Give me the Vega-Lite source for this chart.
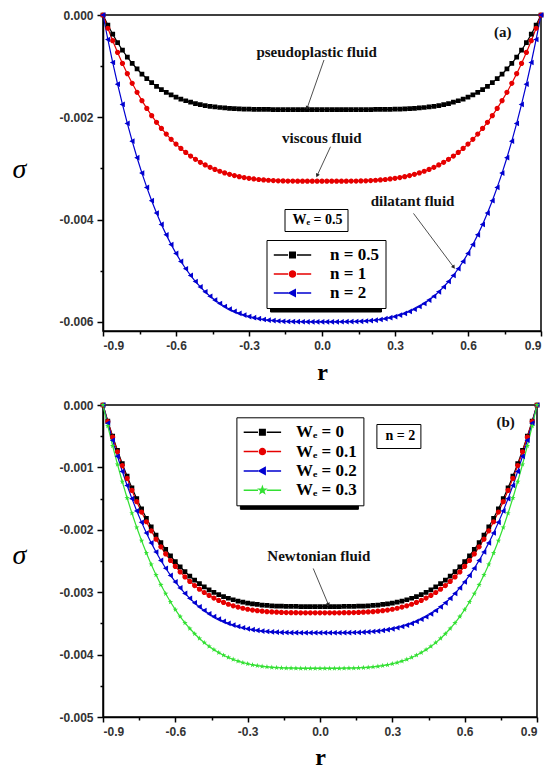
{
  "$schema": "https://vega.github.io/schema/vega-lite/v6.json",
  "padding": {"left": 11, "top": 8, "right": 5, "bottom": 2},
  "spacing": 13,
  "config": {
    "view": {"stroke": "black", "strokeWidth": 1.5},
    "axis": {"grid": false, "domainColor": "black", "domainWidth": 1.5, "tickColor": "black", "tickWidth": 1.5, "labelFont": "Liberation Sans", "labelFontWeight": "bold", "labelFontSize": 12, "labelColor": "#333333", "labelPadding": 3},
    "text": {"font": "Liberation Serif"}
  },
  "datasets": {
    "curves": [
      {"r":-0.9,"p1":0,"p2":0,"p3":0,"q0":0,"q1":0,"q2":0,"q3":0},
      {"r":-0.88,"p1":-0.000197,"p2":-0.000259,"p3":-0.000479,"q0":-0.000258,"q1":-0.000266,"q2":-0.000291,"q3":-0.000337},
      {"r":-0.86,"p1":-0.000376,"p2":-0.000503,"p3":-0.000929,"q0":-0.0005,"q1":-0.000516,"q2":-0.000565,"q3":-0.000654},
      {"r":-0.84,"p1":-0.00054,"p2":-0.000732,"p3":-0.001352,"q0":-0.000728,"q1":-0.00075,"q2":-0.000822,"q3":-0.000951},
      {"r":-0.82,"p1":-0.000689,"p2":-0.000947,"p3":-0.001748,"q0":-0.000941,"q1":-0.00097,"q2":-0.001064,"q3":-0.00123},
      {"r":-0.8,"p1":-0.000823,"p2":-0.001148,"p3":-0.00212,"q0":-0.001141,"q1":-0.001176,"q2":-0.00129,"q3":-0.001491},
      {"r":-0.78,"p1":-0.000945,"p2":-0.001336,"p3":-0.002467,"q0":-0.001328,"q1":-0.001369,"q2":-0.001501,"q3":-0.001735},
      {"r":-0.76,"p1":-0.001056,"p2":-0.001512,"p3":-0.002791,"q0":-0.001502,"q1":-0.001549,"q2":-0.001698,"q3":-0.001963},
      {"r":-0.74,"p1":-0.001155,"p2":-0.001675,"p3":-0.003092,"q0":-0.001665,"q1":-0.001716,"q2":-0.001881,"q3":-0.002175},
      {"r":-0.72,"p1":-0.001244,"p2":-0.001827,"p3":-0.003372,"q0":-0.001815,"q1":-0.001871,"q2":-0.002051,"q3":-0.002372},
      {"r":-0.7,"p1":-0.001323,"p2":-0.001968,"p3":-0.003632,"q0":-0.001955,"q1":-0.002016,"q2":-0.00221,"q3":-0.002555},
      {"r":-0.68,"p1":-0.001394,"p2":-0.002098,"p3":-0.003873,"q0":-0.002085,"q1":-0.00215,"q2":-0.002356,"q3":-0.002724},
      {"r":-0.66,"p1":-0.001458,"p2":-0.002218,"p3":-0.004096,"q0":-0.002205,"q1":-0.002273,"q2":-0.002491,"q3":-0.002881},
      {"r":-0.64,"p1":-0.001513,"p2":-0.002329,"p3":-0.0043,"q0":-0.002315,"q1":-0.002387,"q2":-0.002616,"q3":-0.003024},
      {"r":-0.62,"p1":-0.001563,"p2":-0.002432,"p3":-0.004489,"q0":-0.002417,"q1":-0.002492,"q2":-0.002731,"q3":-0.003157},
      {"r":-0.6,"p1":-0.001606,"p2":-0.002525,"p3":-0.004662,"q0":-0.00251,"q1":-0.002587,"q2":-0.002836,"q3":-0.003279},
      {"r":-0.58,"p1":-0.001644,"p2":-0.00261,"p3":-0.004819,"q0":-0.002594,"q1":-0.002675,"q2":-0.002932,"q3":-0.00339},
      {"r":-0.56,"p1":-0.001677,"p2":-0.002688,"p3":-0.004963,"q0":-0.002672,"q1":-0.002755,"q2":-0.003019,"q3":-0.003491},
      {"r":-0.54,"p1":-0.001706,"p2":-0.002759,"p3":-0.005093,"q0":-0.002742,"q1":-0.002827,"q2":-0.003098,"q3":-0.003582},
      {"r":-0.52,"p1":-0.001731,"p2":-0.002823,"p3":-0.005212,"q0":-0.002806,"q1":-0.002893,"q2":-0.003171,"q3":-0.003666},
      {"r":-0.5,"p1":-0.001752,"p2":-0.002881,"p3":-0.005318,"q0":-0.002863,"q1":-0.002952,"q2":-0.003235,"q3":-0.003741},
      {"r":-0.48,"p1":-0.00177,"p2":-0.002932,"p3":-0.005414,"q0":-0.002914,"q1":-0.003005,"q2":-0.003293,"q3":-0.003808},
      {"r":-0.46,"p1":-0.001785,"p2":-0.002979,"p3":-0.0055,"q0":-0.002961,"q1":-0.003052,"q2":-0.003346,"q3":-0.003868},
      {"r":-0.44,"p1":-0.001798,"p2":-0.00302,"p3":-0.005575,"q0":-0.003001,"q1":-0.003094,"q2":-0.003392,"q3":-0.003921},
      {"r":-0.42,"p1":-0.001809,"p2":-0.003056,"p3":-0.005642,"q0":-0.003037,"q1":-0.003132,"q2":-0.003432,"q3":-0.003968},
      {"r":-0.4,"p1":-0.001818,"p2":-0.003088,"p3":-0.005701,"q0":-0.003069,"q1":-0.003164,"q2":-0.003468,"q3":-0.00401},
      {"r":-0.38,"p1":-0.001825,"p2":-0.003116,"p3":-0.005753,"q0":-0.003097,"q1":-0.003193,"q2":-0.0035,"q3":-0.004046},
      {"r":-0.36,"p1":-0.001831,"p2":-0.00314,"p3":-0.005798,"q0":-0.003121,"q1":-0.003218,"q2":-0.003527,"q3":-0.004078},
      {"r":-0.34,"p1":-0.001836,"p2":-0.003161,"p3":-0.005836,"q0":-0.003142,"q1":-0.003239,"q2":-0.00355,"q3":-0.004105},
      {"r":-0.32,"p1":-0.001839,"p2":-0.003179,"p3":-0.005869,"q0":-0.00316,"q1":-0.003257,"q2":-0.00357,"q3":-0.004128},
      {"r":-0.3,"p1":-0.001842,"p2":-0.003194,"p3":-0.005897,"q0":-0.003174,"q1":-0.003273,"q2":-0.003587,"q3":-0.004147},
      {"r":-0.28,"p1":-0.001845,"p2":-0.003207,"p3":-0.00592,"q0":-0.003187,"q1":-0.003286,"q2":-0.003601,"q3":-0.004164},
      {"r":-0.26,"p1":-0.001846,"p2":-0.003217,"p3":-0.005939,"q0":-0.003197,"q1":-0.003296,"q2":-0.003613,"q3":-0.004177},
      {"r":-0.24,"p1":-0.001848,"p2":-0.003226,"p3":-0.005955,"q0":-0.003206,"q1":-0.003305,"q2":-0.003623,"q3":-0.004188},
      {"r":-0.22,"p1":-0.001848,"p2":-0.003232,"p3":-0.005968,"q0":-0.003213,"q1":-0.003312,"q2":-0.00363,"q3":-0.004197},
      {"r":-0.2,"p1":-0.001849,"p2":-0.003238,"p3":-0.005977,"q0":-0.003218,"q1":-0.003317,"q2":-0.003636,"q3":-0.004204},
      {"r":-0.18,"p1":-0.00185,"p2":-0.003242,"p3":-0.005984,"q0":-0.003222,"q1":-0.003321,"q2":-0.003641,"q3":-0.004209},
      {"r":-0.16,"p1":-0.00185,"p2":-0.003245,"p3":-0.00599,"q0":-0.003225,"q1":-0.003324,"q2":-0.003644,"q3":-0.004213},
      {"r":-0.14,"p1":-0.00185,"p2":-0.003247,"p3":-0.005994,"q0":-0.003227,"q1":-0.003327,"q2":-0.003646,"q3":-0.004216},
      {"r":-0.12,"p1":-0.00185,"p2":-0.003248,"p3":-0.005996,"q0":-0.003228,"q1":-0.003328,"q2":-0.003648,"q3":-0.004217},
      {"r":-0.1,"p1":-0.00185,"p2":-0.003249,"p3":-0.005998,"q0":-0.003229,"q1":-0.003329,"q2":-0.003649,"q3":-0.004219},
      {"r":-0.08,"p1":-0.00185,"p2":-0.00325,"p3":-0.005999,"q0":-0.00323,"q1":-0.00333,"q2":-0.00365,"q3":-0.00422},
      {"r":-0.06,"p1":-0.00185,"p2":-0.00325,"p3":-0.006,"q0":-0.00323,"q1":-0.00333,"q2":-0.00365,"q3":-0.00422},
      {"r":-0.04,"p1":-0.00185,"p2":-0.00325,"p3":-0.006,"q0":-0.00323,"q1":-0.00333,"q2":-0.00365,"q3":-0.00422},
      {"r":-0.02,"p1":-0.00185,"p2":-0.00325,"p3":-0.006,"q0":-0.00323,"q1":-0.00333,"q2":-0.00365,"q3":-0.00422},
      {"r":0,"p1":-0.00185,"p2":-0.00325,"p3":-0.006,"q0":-0.00323,"q1":-0.00333,"q2":-0.00365,"q3":-0.00422},
      {"r":0.02,"p1":-0.00185,"p2":-0.00325,"p3":-0.006,"q0":-0.00323,"q1":-0.00333,"q2":-0.00365,"q3":-0.00422},
      {"r":0.04,"p1":-0.00185,"p2":-0.00325,"p3":-0.006,"q0":-0.00323,"q1":-0.00333,"q2":-0.00365,"q3":-0.00422},
      {"r":0.06,"p1":-0.00185,"p2":-0.00325,"p3":-0.006,"q0":-0.00323,"q1":-0.00333,"q2":-0.00365,"q3":-0.00422},
      {"r":0.08,"p1":-0.00185,"p2":-0.00325,"p3":-0.005999,"q0":-0.00323,"q1":-0.00333,"q2":-0.00365,"q3":-0.00422},
      {"r":0.1,"p1":-0.00185,"p2":-0.003249,"p3":-0.005998,"q0":-0.003229,"q1":-0.003329,"q2":-0.003649,"q3":-0.004219},
      {"r":0.12,"p1":-0.00185,"p2":-0.003248,"p3":-0.005996,"q0":-0.003228,"q1":-0.003328,"q2":-0.003648,"q3":-0.004217},
      {"r":0.14,"p1":-0.00185,"p2":-0.003247,"p3":-0.005994,"q0":-0.003227,"q1":-0.003327,"q2":-0.003646,"q3":-0.004216},
      {"r":0.16,"p1":-0.00185,"p2":-0.003245,"p3":-0.00599,"q0":-0.003225,"q1":-0.003324,"q2":-0.003644,"q3":-0.004213},
      {"r":0.18,"p1":-0.00185,"p2":-0.003242,"p3":-0.005984,"q0":-0.003222,"q1":-0.003321,"q2":-0.003641,"q3":-0.004209},
      {"r":0.2,"p1":-0.001849,"p2":-0.003238,"p3":-0.005977,"q0":-0.003218,"q1":-0.003317,"q2":-0.003636,"q3":-0.004204},
      {"r":0.22,"p1":-0.001848,"p2":-0.003232,"p3":-0.005968,"q0":-0.003213,"q1":-0.003312,"q2":-0.00363,"q3":-0.004197},
      {"r":0.24,"p1":-0.001848,"p2":-0.003226,"p3":-0.005955,"q0":-0.003206,"q1":-0.003305,"q2":-0.003623,"q3":-0.004188},
      {"r":0.26,"p1":-0.001846,"p2":-0.003217,"p3":-0.005939,"q0":-0.003197,"q1":-0.003296,"q2":-0.003613,"q3":-0.004177},
      {"r":0.28,"p1":-0.001845,"p2":-0.003207,"p3":-0.00592,"q0":-0.003187,"q1":-0.003286,"q2":-0.003601,"q3":-0.004164},
      {"r":0.3,"p1":-0.001842,"p2":-0.003194,"p3":-0.005897,"q0":-0.003174,"q1":-0.003273,"q2":-0.003587,"q3":-0.004147},
      {"r":0.32,"p1":-0.001839,"p2":-0.003179,"p3":-0.005869,"q0":-0.00316,"q1":-0.003257,"q2":-0.00357,"q3":-0.004128},
      {"r":0.34,"p1":-0.001836,"p2":-0.003161,"p3":-0.005836,"q0":-0.003142,"q1":-0.003239,"q2":-0.00355,"q3":-0.004105},
      {"r":0.36,"p1":-0.001831,"p2":-0.00314,"p3":-0.005798,"q0":-0.003121,"q1":-0.003218,"q2":-0.003527,"q3":-0.004078},
      {"r":0.38,"p1":-0.001825,"p2":-0.003116,"p3":-0.005753,"q0":-0.003097,"q1":-0.003193,"q2":-0.0035,"q3":-0.004046},
      {"r":0.4,"p1":-0.001818,"p2":-0.003088,"p3":-0.005701,"q0":-0.003069,"q1":-0.003164,"q2":-0.003468,"q3":-0.00401},
      {"r":0.42,"p1":-0.001809,"p2":-0.003056,"p3":-0.005642,"q0":-0.003037,"q1":-0.003132,"q2":-0.003432,"q3":-0.003968},
      {"r":0.44,"p1":-0.001798,"p2":-0.00302,"p3":-0.005575,"q0":-0.003001,"q1":-0.003094,"q2":-0.003392,"q3":-0.003921},
      {"r":0.46,"p1":-0.001785,"p2":-0.002979,"p3":-0.0055,"q0":-0.002961,"q1":-0.003052,"q2":-0.003346,"q3":-0.003868},
      {"r":0.48,"p1":-0.00177,"p2":-0.002932,"p3":-0.005414,"q0":-0.002914,"q1":-0.003005,"q2":-0.003293,"q3":-0.003808},
      {"r":0.5,"p1":-0.001752,"p2":-0.002881,"p3":-0.005318,"q0":-0.002863,"q1":-0.002952,"q2":-0.003235,"q3":-0.003741},
      {"r":0.52,"p1":-0.001731,"p2":-0.002823,"p3":-0.005212,"q0":-0.002806,"q1":-0.002893,"q2":-0.003171,"q3":-0.003666},
      {"r":0.54,"p1":-0.001706,"p2":-0.002759,"p3":-0.005093,"q0":-0.002742,"q1":-0.002827,"q2":-0.003098,"q3":-0.003582},
      {"r":0.56,"p1":-0.001677,"p2":-0.002688,"p3":-0.004963,"q0":-0.002672,"q1":-0.002755,"q2":-0.003019,"q3":-0.003491},
      {"r":0.58,"p1":-0.001644,"p2":-0.00261,"p3":-0.004819,"q0":-0.002594,"q1":-0.002675,"q2":-0.002932,"q3":-0.00339},
      {"r":0.6,"p1":-0.001606,"p2":-0.002525,"p3":-0.004662,"q0":-0.00251,"q1":-0.002587,"q2":-0.002836,"q3":-0.003279},
      {"r":0.62,"p1":-0.001563,"p2":-0.002432,"p3":-0.004489,"q0":-0.002417,"q1":-0.002492,"q2":-0.002731,"q3":-0.003157},
      {"r":0.64,"p1":-0.001513,"p2":-0.002329,"p3":-0.0043,"q0":-0.002315,"q1":-0.002387,"q2":-0.002616,"q3":-0.003024},
      {"r":0.66,"p1":-0.001458,"p2":-0.002218,"p3":-0.004096,"q0":-0.002205,"q1":-0.002273,"q2":-0.002491,"q3":-0.002881},
      {"r":0.68,"p1":-0.001394,"p2":-0.002098,"p3":-0.003873,"q0":-0.002085,"q1":-0.00215,"q2":-0.002356,"q3":-0.002724},
      {"r":0.7,"p1":-0.001323,"p2":-0.001968,"p3":-0.003632,"q0":-0.001955,"q1":-0.002016,"q2":-0.00221,"q3":-0.002555},
      {"r":0.72,"p1":-0.001244,"p2":-0.001827,"p3":-0.003372,"q0":-0.001815,"q1":-0.001871,"q2":-0.002051,"q3":-0.002372},
      {"r":0.74,"p1":-0.001155,"p2":-0.001675,"p3":-0.003092,"q0":-0.001665,"q1":-0.001716,"q2":-0.001881,"q3":-0.002175},
      {"r":0.76,"p1":-0.001056,"p2":-0.001512,"p3":-0.002791,"q0":-0.001502,"q1":-0.001549,"q2":-0.001698,"q3":-0.001963},
      {"r":0.78,"p1":-0.000945,"p2":-0.001336,"p3":-0.002467,"q0":-0.001328,"q1":-0.001369,"q2":-0.001501,"q3":-0.001735},
      {"r":0.8,"p1":-0.000823,"p2":-0.001148,"p3":-0.00212,"q0":-0.001141,"q1":-0.001176,"q2":-0.00129,"q3":-0.001491},
      {"r":0.82,"p1":-0.000689,"p2":-0.000947,"p3":-0.001748,"q0":-0.000941,"q1":-0.00097,"q2":-0.001064,"q3":-0.00123},
      {"r":0.84,"p1":-0.00054,"p2":-0.000732,"p3":-0.001352,"q0":-0.000728,"q1":-0.00075,"q2":-0.000822,"q3":-0.000951},
      {"r":0.86,"p1":-0.000376,"p2":-0.000503,"p3":-0.000929,"q0":-0.0005,"q1":-0.000516,"q2":-0.000565,"q3":-0.000654},
      {"r":0.88,"p1":-0.000197,"p2":-0.000259,"p3":-0.000479,"q0":-0.000258,"q1":-0.000266,"q2":-0.000291,"q3":-0.000337},
      {"r":0.9,"p1":0,"p2":0,"p3":0,"q0":0,"q1":0,"q2":0,"q3":0}
    ],
    "notesA": [
      {"r": 0.743, "s": -0.000334, "t": "(a)"},
      {"r": -0.022, "s": -0.000718, "t": "pseudoplastic fluid"},
      {"r": -0.001, "s": -0.002406, "t": "viscous fluid"},
      {"r": 0.372, "s": -0.00364, "t": "dilatant fluid"}
    ],
    "arrowsA": [
      {"id": 1, "r": 0.0082, "s": -0.00088, "r2": -0.06, "s2": -0.001806},
      {"id": 2, "r": 0.035, "s": -0.002576, "r2": -0.019, "s2": -0.00313},
      {"id": 3, "r": 0.376, "s": -0.00388, "r2": 0.54, "s2": -0.004924}
    ],
    "notesB": [
      {"r": 0.77, "s": -0.000278, "t": "(b)"},
      {"r": -0.005, "s": -0.002417, "t": "Newtonian fluid"}
    ],
    "arrowsB": [
      {"id": 1, "r": -0.028, "s": -0.00262, "r2": 0.034, "s2": -0.003192}
    ]
  },
  "resolve": {"scale": {"color": "independent", "stroke": "independent", "shape": "independent", "strokeDash": "independent", "size": "independent", "x": "independent", "y": "independent"}},
  "vconcat": [
    {
      "width": 438,
      "height": 316,
      "encoding": {
        "x": {"field": "r", "type": "quantitative", "scale": {"domain": [-0.9, 0.9], "nice": false, "zero": false},
          "axis": {"title": "r", "values": [-0.9, -0.75, -0.6, -0.45, -0.3, -0.15, 0, 0.15, 0.3, 0.45, 0.6, 0.75, 0.9],
            "labelExpr": "indexof([-0.9,-0.6,-0.3,0,0.3,0.6,0.9], datum.value) >= 0 ? replace(format(datum.value, '.1f'), '\u2212', '-') : ''",
            "tickSize": {"condition": {"test": "indexof([-0.9,-0.6,-0.3,0,0.3,0.6,0.9], datum.value) >= 0", "value": 5}, "value": 3},
            "labelPadding": 4,
            "titleFont": "Liberation Serif", "titleFontWeight": "bold", "titleFontSize": 24, "titleColor": "black", "titleY": 48, "titleBaseline": "alphabetic"}},
        "y": {"field": "s", "type": "quantitative", "scale": {"domain": [-0.00618, 0], "nice": false, "zero": false},
          "axis": {"title": "σ", "values": [0, -0.001, -0.002, -0.003, -0.004, -0.005, -0.006],
            "labelExpr": "indexof([0,-0.002,-0.004,-0.006], datum.value) >= 0 ? replace(format(datum.value, '.3f'), '\u2212', '-') : ''",
            "tickSize": {"condition": {"test": "indexof([0,-0.002,-0.004,-0.006], datum.value) >= 0", "value": 6}, "value": 3},
            "labelPadding": 4,
            "titleFont": "Liberation Serif", "titleFontStyle": "italic", "titleFontWeight": "normal", "titleFontSize": 28, "titleColor": "black",
            "titleAngle": 0, "titleX": -84, "titleY": 154, "titleAlign": "center", "titleBaseline": "middle"}}
      },
      "layer": [
        {
          "data": {"name": "curves"},
          "transform": [{"fold": ["p1", "p2", "p3"], "as": ["k", "s"]}],
          "mark": {"type": "line", "strokeWidth": 1.2},
          "encoding": {
            "stroke": {"field": "k", "type": "nominal", "scale": {"domain": ["p1", "p2", "p3"], "range": ["#000000", "#e60000", "#0000d0"]},
              "legend": {"orient": "none", "legendX": 163.5, "legendY": 225, "title": null, "zindex": 2,
                "labelExpr": "datum.label === 'p1' ? 'n = 0.5' : datum.label === 'p2' ? 'n = 1' : 'n = 2'",
                "labelFont": "Liberation Serif", "labelFontWeight": "bold", "labelFontSize": 17, "labelColor": "black",
                "symbolSize": 121, "symbolStrokeWidth": 1.5, "symbolOffset": 11, "labelOffset": 29, "padding": 6.5, "rowPadding": 1,
                "strokeColor": "black", "fillColor": "white"}}
          }
        },
        {
          "data": {"name": "curves"},
          "transform": [{"fold": ["p1", "p2", "p3"], "as": ["k", "s"]}],
          "mark": {"type": "point", "filled": true, "size": 90, "opacity": 1, "strokeWidth": 0},
          "encoding": {
            "color": {"field": "k", "type": "nominal", "scale": {"domain": ["p1", "p2", "p3"], "range": ["#000000", "#e60000", "#0000d0"]},
              "legend": {"orient": "none", "legendX": 163.5, "legendY": 225, "title": null, "zindex": 2,
                "labelExpr": "datum.label === 'p1' ? 'n = 0.5' : datum.label === 'p2' ? 'n = 1' : 'n = 2'",
                "labelFont": "Liberation Serif", "labelFontWeight": "bold", "labelFontSize": 17, "labelColor": "black",
                "symbolSize": 121, "symbolStrokeWidth": 1.5, "symbolOffset": 11, "labelOffset": 29, "padding": 6.5, "rowPadding": 1,
                "strokeColor": "black", "fillColor": "white"}},
            "shape": {"field": "k", "type": "nominal",
              "scale": {"domain": ["p1", "p2", "p3"], "range": [
                "M-3.4,0H-0.8M0.8,0H3.4M-0.5,-0.5H0.5V0.5H-0.5Z",
                "M-3.4,0H-0.8M0.8,0H3.4M-0.55,0A0.55,0.55,0,1,1,0.55,0A0.55,0.55,0,1,1,-0.55,0Z",
                "M-3.4,0H-0.8M0.8,0H3.4M-0.6,0L0.5,-0.6L0.5,0.6Z"]},
              "legend": {"orient": "none", "legendX": 163.5, "legendY": 225, "title": null, "zindex": 2,
                "labelExpr": "datum.label === 'p1' ? 'n = 0.5' : datum.label === 'p2' ? 'n = 1' : 'n = 2'",
                "labelFont": "Liberation Serif", "labelFontWeight": "bold", "labelFontSize": 17, "labelColor": "black",
                "symbolSize": 121, "symbolStrokeWidth": 1.5, "symbolOffset": 11, "labelOffset": 29, "padding": 6.5, "rowPadding": 1,
                "strokeColor": "black", "fillColor": "white"}}
          }
        },
        {
          "data": {"values": [{"sh": "s1", "r": 0, "s": -0.003}, {"sh": "s2", "r": 0, "s": -0.003}, {"sh": "s3", "r": 0, "s": -0.003}]},
          "mark": {"type": "point", "opacity": 0},
          "encoding": {
            "size": {"field": "sh", "type": "ordinal", "scale": {"range": [289, 289]},
              "legend": {"orient": "none", "legendX": 167, "legendY": 228.5, "title": null, "zindex": 1,
                "labelExpr": "''",
                "labelFont": "Liberation Serif", "labelFontWeight": "bold", "labelFontSize": 17, "labelOpacity": 0, "symbolOpacity": 0,
                "symbolSize": 289, "symbolStrokeWidth": 0, "symbolOffset": 11, "labelOffset": 70, "padding": 6.5, "rowPadding": 1,
                "strokeColor": "black", "fillColor": "black"}}
          }
        },
        {
          "data": {"values": [{"bx": "Wₑ = 0.5", "r": 0, "s": -0.003}]},
          "mark": {"type": "point", "opacity": 0},
          "encoding": {
            "strokeDash": {"field": "bx", "type": "nominal",
              "legend": {"orient": "none", "legendX": 181.5, "legendY": 194, "title": null, "symbolOpacity": 0, "symbolSize": 1, "symbolOffset": 0, "labelOffset": -10,
                "labelFont": "Liberation Serif", "labelFontWeight": "bold", "labelFontSize": 14, "labelColor": "black",
                "strokeColor": "black", "fillColor": "white", "padding": 4}}
          }
        },
        {
          "data": {"name": "notesA"},
          "mark": {"type": "text", "font": "Liberation Serif", "fontWeight": "bold", "fontSize": 15, "color": "#111111", "align": "center", "baseline": "middle"},
          "encoding": {"text": {"field": "t"}}
        },
        {
          "data": {"name": "arrowsA"},
          "mark": {"type": "rule", "strokeWidth": 0.8, "color": "#222222"},
          "encoding": {"x2": {"field": "r2"}, "y2": {"field": "s2"}}
        },
        {
          "data": {"name": "arrowsA"},
          "transform": [{"filter": "datum.id === 1"}],
          "mark": {"type": "point", "shape": "triangle", "angle": 199, "size": 18, "filled": true, "opacity": 1, "color": "#222222"},
          "encoding": {"x": {"field": "r2", "type": "quantitative"}, "y": {"field": "s2", "type": "quantitative"}}
        },
        {
          "data": {"name": "arrowsA"},
          "transform": [{"filter": "datum.id === 2"}],
          "mark": {"type": "point", "shape": "triangle", "angle": 205, "size": 18, "filled": true, "opacity": 1, "color": "#222222"},
          "encoding": {"x": {"field": "r2", "type": "quantitative"}, "y": {"field": "s2", "type": "quantitative"}}
        },
        {
          "data": {"name": "arrowsA"},
          "transform": [{"filter": "datum.id === 3"}],
          "mark": {"type": "point", "shape": "triangle", "angle": 144, "size": 18, "filled": true, "opacity": 1, "color": "#222222"},
          "encoding": {"x": {"field": "r2", "type": "quantitative"}, "y": {"field": "s2", "type": "quantitative"}}
        }
      ]
    },
    {
      "width": 434,
      "height": 312,
      "encoding": {
        "x": {"field": "r", "type": "quantitative", "scale": {"domain": [-0.9, 0.9], "nice": false, "zero": false},
          "axis": {"title": "r", "values": [-0.9, -0.75, -0.6, -0.45, -0.3, -0.15, 0, 0.15, 0.3, 0.45, 0.6, 0.75, 0.9],
            "labelExpr": "indexof([-0.9,-0.6,-0.3,0,0.3,0.6,0.9], datum.value) >= 0 ? replace(format(datum.value, '.1f'), '\u2212', '-') : ''",
            "tickSize": {"condition": {"test": "indexof([-0.9,-0.6,-0.3,0,0.3,0.6,0.9], datum.value) >= 0", "value": 5}, "value": 3},
            "labelPadding": 4,
            "titleFont": "Liberation Serif", "titleFontWeight": "bold", "titleFontSize": 24, "titleColor": "black", "titleY": 47, "titleBaseline": "alphabetic"}},
        "y": {"field": "s", "type": "quantitative", "scale": {"domain": [-0.005, 0], "nice": false, "zero": false},
          "axis": {"title": "σ", "values": [0, -0.0005, -0.001, -0.0015, -0.002, -0.0025, -0.003, -0.0035, -0.004, -0.0045, -0.005],
            "labelExpr": "indexof([0,-0.001,-0.002,-0.003,-0.004,-0.005], datum.value) >= 0 ? replace(format(datum.value, '.3f'), '\u2212', '-') : ''",
            "tickSize": {"condition": {"test": "indexof([0,-0.001,-0.002,-0.003,-0.004,-0.005], datum.value) >= 0", "value": 6}, "value": 3},
            "labelPadding": 4,
            "titleFont": "Liberation Serif", "titleFontStyle": "italic", "titleFontWeight": "normal", "titleFontSize": 28, "titleColor": "black",
            "titleAngle": 0, "titleX": -84, "titleY": 150, "titleAlign": "center", "titleBaseline": "middle"}}
      },
      "layer": [
        {
          "data": {"name": "curves"},
          "transform": [{"fold": ["q0", "q1", "q2", "q3"], "as": ["k", "s"]}],
          "mark": {"type": "line", "strokeWidth": 1.2},
          "encoding": {
            "stroke": {"field": "k", "type": "nominal", "scale": {"domain": ["q0", "q1", "q2", "q3"], "range": ["#000000", "#e60000", "#0000d0", "#33e033"]},
              "legend": {"orient": "none", "legendX": 133.4, "legendY": 12.3, "title": null, "zindex": 2,
                "labelExpr": "datum.label === 'q0' ? 'Wₑ = 0' : datum.label === 'q1' ? 'Wₑ = 0.1' : datum.label === 'q2' ? 'Wₑ = 0.2' : 'Wₑ = 0.3'",
                "labelFont": "Liberation Serif", "labelFontWeight": "bold", "labelFontSize": 17, "labelColor": "black",
                "symbolSize": 121, "symbolStrokeWidth": 1.5, "symbolOffset": 11, "labelOffset": 25, "padding": 6.5, "rowPadding": 1.3,
                "strokeColor": "black", "fillColor": "white"}}
          }
        },
        {
          "data": {"name": "curves"},
          "transform": [{"fold": ["q0", "q1", "q2", "q3"], "as": ["k", "s"]}],
          "mark": {"type": "point", "filled": true, "size": 90, "opacity": 1, "strokeWidth": 0},
          "encoding": {
            "color": {"field": "k", "type": "nominal", "scale": {"domain": ["q0", "q1", "q2", "q3"], "range": ["#000000", "#e60000", "#0000d0", "#33e033"]},
              "legend": {"orient": "none", "legendX": 133.4, "legendY": 12.3, "title": null, "zindex": 2,
                "labelExpr": "datum.label === 'q0' ? 'Wₑ = 0' : datum.label === 'q1' ? 'Wₑ = 0.1' : datum.label === 'q2' ? 'Wₑ = 0.2' : 'Wₑ = 0.3'",
                "labelFont": "Liberation Serif", "labelFontWeight": "bold", "labelFontSize": 17, "labelColor": "black",
                "symbolSize": 121, "symbolStrokeWidth": 1.5, "symbolOffset": 11, "labelOffset": 25, "padding": 6.5, "rowPadding": 1.3,
                "strokeColor": "black", "fillColor": "white"}},
            "shape": {"field": "k", "type": "nominal",
              "scale": {"domain": ["q0", "q1", "q2", "q3"], "range": [
                "M-3.4,0H-0.8M0.8,0H3.4M-0.5,-0.5H0.5V0.5H-0.5Z",
                "M-3.4,0H-0.8M0.8,0H3.4M-0.55,0A0.55,0.55,0,1,1,0.55,0A0.55,0.55,0,1,1,-0.55,0Z",
                "M-3.4,0H-0.8M0.8,0H3.4M-0.6,0L0.5,-0.6L0.5,0.6Z",
                "M-3.4,0H-0.8M0.8,0H3.4M0,-0.6L0.141,-0.194L0.571,-0.185L0.228,0.074L0.353,0.485L0,0.24L-0.353,0.485L-0.228,0.074L-0.571,-0.185L-0.141,-0.194Z"]},
              "legend": {"orient": "none", "legendX": 133.4, "legendY": 12.3, "title": null, "zindex": 2,
                "labelExpr": "datum.label === 'q0' ? 'Wₑ = 0' : datum.label === 'q1' ? 'Wₑ = 0.1' : datum.label === 'q2' ? 'Wₑ = 0.2' : 'Wₑ = 0.3'",
                "labelFont": "Liberation Serif", "labelFontWeight": "bold", "labelFontSize": 17, "labelColor": "black",
                "symbolSize": 121, "symbolStrokeWidth": 1.5, "symbolOffset": 11, "labelOffset": 25, "padding": 6.5, "rowPadding": 1.3,
                "strokeColor": "black", "fillColor": "white"}}
          }
        },
        {
          "data": {"values": [{"sh": "s0", "r": 0, "s": -0.003}, {"sh": "s1", "r": 0, "s": -0.003}, {"sh": "s2", "r": 0, "s": -0.003}, {"sh": "s3", "r": 0, "s": -0.003}]},
          "mark": {"type": "point", "opacity": 0},
          "encoding": {
            "size": {"field": "sh", "type": "ordinal", "scale": {"range": [289, 289]},
              "legend": {"orient": "none", "legendX": 136.9, "legendY": 15.8, "title": null, "zindex": 1,
                "labelExpr": "''",
                "labelFont": "Liberation Serif", "labelFontWeight": "bold", "labelFontSize": 17, "labelOpacity": 0, "symbolOpacity": 0,
                "symbolSize": 289, "symbolStrokeWidth": 0, "symbolOffset": 11, "labelOffset": 77, "padding": 6.5, "rowPadding": 1.3,
                "strokeColor": "black", "fillColor": "black"}}
          }
        },
        {
          "data": {"values": [{"bx": "n = 2", "r": 0, "s": -0.003}]},
          "mark": {"type": "point", "opacity": 0},
          "encoding": {
            "strokeDash": {"field": "bx", "type": "nominal",
              "legend": {"orient": "none", "legendX": 273.4, "legendY": 19, "title": null, "symbolOpacity": 0, "symbolSize": 1, "symbolOffset": 0, "labelOffset": -10,
                "labelFont": "Liberation Serif", "labelFontWeight": "bold", "labelFontSize": 14, "labelColor": "black",
                "strokeColor": "black", "fillColor": "white", "padding": 5}}
          }
        },
        {
          "data": {"name": "notesB"},
          "mark": {"type": "text", "font": "Liberation Serif", "fontWeight": "bold", "fontSize": 15, "color": "#111111", "align": "center", "baseline": "middle"},
          "encoding": {"text": {"field": "t"}}
        },
        {
          "data": {"name": "arrowsB"},
          "mark": {"type": "rule", "strokeWidth": 0.8, "color": "#222222"},
          "encoding": {"x2": {"field": "r2"}, "y2": {"field": "s2"}}
        },
        {
          "data": {"name": "arrowsB"},
          "mark": {"type": "point", "shape": "triangle", "angle": 161, "size": 18, "filled": true, "opacity": 1, "color": "#222222"},
          "encoding": {"x": {"field": "r2", "type": "quantitative"}, "y": {"field": "s2", "type": "quantitative"}}
        }
      ]
    }
  ]
}
